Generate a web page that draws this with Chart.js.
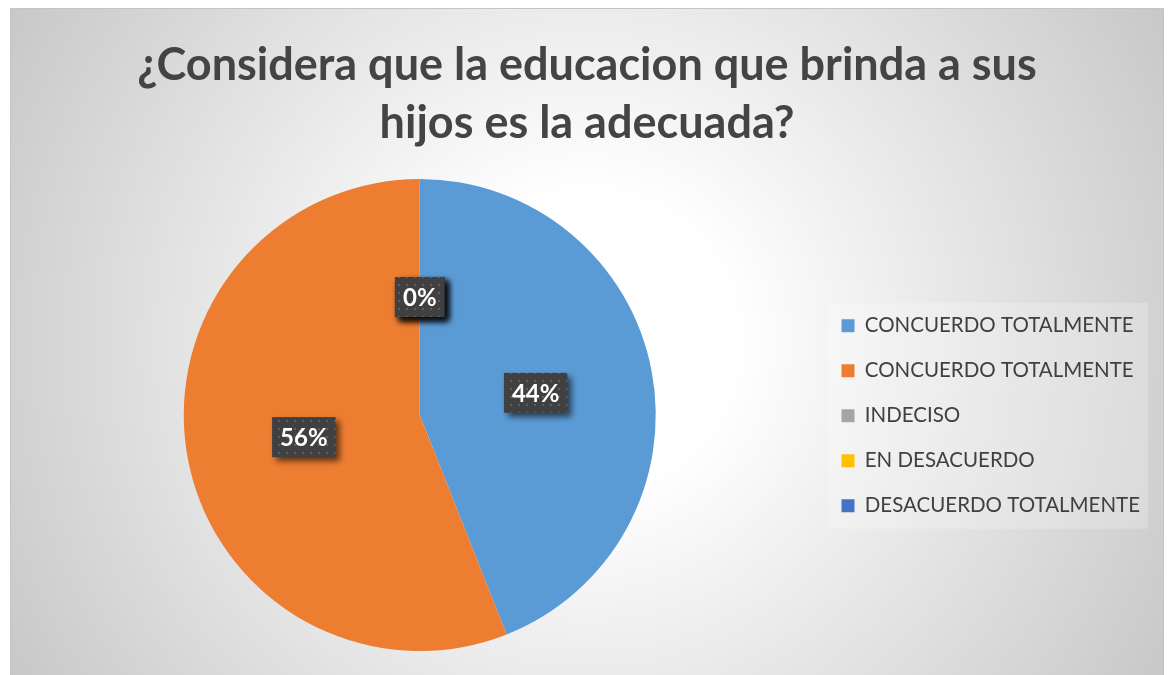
<!DOCTYPE html>
<html>
<head>
<meta charset="utf-8">
<script src="https://cdn.jsdelivr.net/npm/chart.js@4.4.1/dist/chart.umd.min.js"></script>
<style>
  body { margin: 0; background: #fff; }
  #frame {
    position: absolute; left: 10px; top: 8px;
    width: 1152px; height: 700px;
    border: 1px solid #c4c4c4; overflow: hidden;
  }
  #chart { display: block; }
</style>
</head>
<body>
<div id="frame"><canvas id="chart" width="1152" height="666"></canvas></div>
<script>
const titleLines = ['¿Considera que la educacion que brinda a sus', 'hijos es la adecuada?'];
const categories = ['CONCUERDO TOTALMENTE', 'CONCUERDO TOTALMENTE', 'INDECISO', 'EN DESACUERDO', 'DESACUERDO TOTALMENTE'];
const values = [44, 56, 0, 0, 0];
const sliceColors = ['#5B9BD5', '#ED7D31', '#A5A5A5', '#FFC000', '#4472C4'];

const legendFontSize = 20.5;

// Chart area background: radial grey-to-white fill
const backgroundFill = {
    id: 'backgroundFill',
    beforeDraw(chart) {
        const { ctx, width, height } = chart;
        const cx = width / 2, cy = height / 2;
        const g = ctx.createRadialGradient(cx, cy, 0, cx, cy, Math.hypot(cx, cy));
        g.addColorStop(0, '#ffffff');
        g.addColorStop(0.22, '#ffffff');
        g.addColorStop(1, '#c8c8c8');
        ctx.save();
        ctx.fillStyle = g;
        ctx.fillRect(0, 0, width, height);
        ctx.restore();
    }
};

// Light box behind the legend
const legendBox = {
    id: 'legendBox',
    beforeDraw(chart) {
        const legend = chart.legend;
        if (!legend || !legend.legendHitBoxes || !legend.legendHitBoxes.length) return;
        const boxes = legend.legendHitBoxes;
        const top = boxes[0].top + legendFontSize / 2 - 23;
        const bottom = boxes[boxes.length - 1].top + legendFontSize / 2 + 23;
        const left = boxes[0].left - 13;
        const { ctx } = chart;
        ctx.save();
        ctx.fillStyle = 'rgba(255,255,255,0.22)';
        ctx.fillRect(left, top, legend.right - 2 - left, bottom - top);
        ctx.restore();
    }
};

// Percentage labels in dark dotted boxes with a drop shadow
let dotPattern = null;
function getPattern(ctx) {
    if (dotPattern) return dotPattern;
    const p = document.createElement('canvas');
    p.width = 8; p.height = 8;
    const pc = p.getContext('2d');
    pc.fillStyle = '#404040';
    pc.fillRect(0, 0, 8, 8);
    pc.fillStyle = '#5e5e5e';
    pc.fillRect(3, 3, 2, 2);
    dotPattern = ctx.createPattern(p, 'repeat');
    return dotPattern;
}

const pctLabels = {
    id: 'pctLabels',
    afterDatasetsDraw(chart) {
        const { ctx } = chart;
        const meta = chart.getDatasetMeta(0);
        const data = chart.data.datasets[0].data;
        const total = data.reduce((a, b) => a + b, 0);
        ctx.save();
        ctx.font = 'bold 24px Lato';
        ctx.textAlign = 'center';
        ctx.textBaseline = 'middle';
        meta.data.forEach((arc, i) => {
            const pct = Math.round(data[i] / total * 100) + '%';
            const pos = arc.tooltipPosition();
            const tw = ctx.measureText(pct).width;
            const w = tw + 16, h = 40;
            const x = pos.x - w / 2, y = pos.y - h / 2;
            ctx.save();
            ctx.shadowColor = 'rgba(0,0,0,0.6)';
            ctx.shadowBlur = 6;
            ctx.shadowOffsetX = 4;
            ctx.shadowOffsetY = 4;
            ctx.fillStyle = getPattern(ctx);
            ctx.fillRect(x, y, w, h);
            ctx.restore();
            ctx.fillStyle = '#ffffff';
            ctx.fillText(pct, pos.x, pos.y + 1);
        });
        ctx.restore();
    }
};

new Chart(document.getElementById('chart'), {
    type: 'pie',
    data: {
        labels: categories.map(c => [c]),
        datasets: [{
            data: values,
            backgroundColor: sliceColors,
            borderWidth: 0
        }]
    },
    options: {
        responsive: false,
        animation: false,
        layout: { padding: { top: 0, right: 13, bottom: 24, left: 13 } },
        plugins: {
            title: {
                display: true,
                text: titleLines,
                color: '#444444',
                font: { family: 'Lato', size: 45, weight: 'bold', lineHeight: 58 / 45 },
                padding: { top: 27, bottom: 27 }
            },
            legend: {
                position: 'right',
                // empty title only used to push the items down to the middle
                title: { display: true, text: '', padding: 0, font: { size: 10, lineHeight: '170px' } },
                labels: {
                    boxWidth: 13,
                    boxHeight: 13,
                    padding: 26,
                    color: '#404040',
                    font: { family: 'Lato', size: legendFontSize, lineHeight: '19px' }
                }
            },
            tooltip: { enabled: false }
        }
    },
    plugins: [backgroundFill, legendBox, pctLabels]
});
</script>
</body>
</html>
